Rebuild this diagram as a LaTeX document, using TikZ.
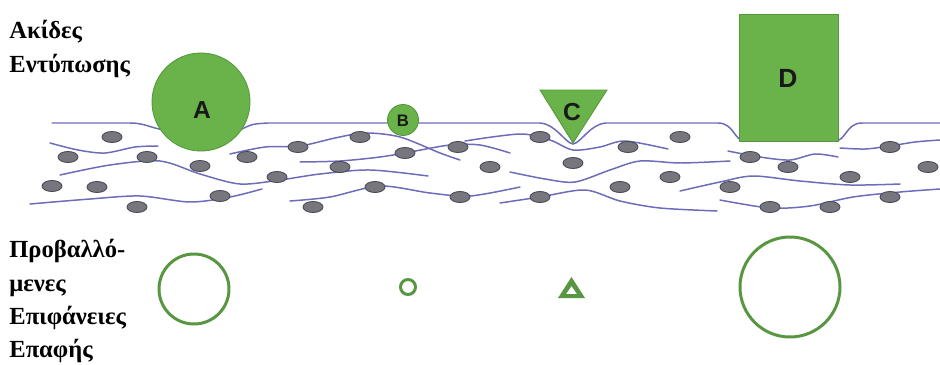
\documentclass[tikz,border=0pt]{standalone}
\usepackage{fontspec}
\setmainfont{Liberation Serif}
\newfontfamily\lblfont{Liberation Sans}
\usepackage{tikz}
\usetikzlibrary{calc,positioning}
\definecolor{tipc}{RGB}{106,178,74}
\definecolor{tipe}{RGB}{86,152,60}
\definecolor{ringc}{RGB}{88,150,66}
\definecolor{fibc}{RGB}{108,108,186}
\definecolor{grainc}{RGB}{118,118,124}
\definecolor{graine}{RGB}{72,72,92}
\tikzset{
  tip/.style={fill=tipc,draw=tipe,line width=0.5pt},
  ring/.style={draw=ringc,line width=1.7pt},
  fib/.style={fibc,line width=0.85pt,line cap=round},
  grain/.style={fill=grainc,draw=graine,line width=0.5pt},
  lbl/.style={font=\lblfont\bfseries\fontsize{14}{14}\selectfont,text=black!90,inner sep=0pt},
  caption/.style={font=\bfseries\fontsize{14}{19}\selectfont,align=left,inner sep=0pt,anchor=north west},
}

\begin{document}
\begin{tikzpicture}[x=0.02cm,y=-0.02cm]
  \useasboundingbox (0,0) rectangle (940,365);
  % fibres of the paper
  \draw[fib] plot[smooth] coordinates {(50,143) (78,150) (105,153) (135,147) (158,146)};
  \draw[fib] plot[smooth] coordinates {(60,175) (110,165) (160,161) (200,174) (240,184) (280,180) (320,174) (370,170) (428,176)};
  \draw[fib] plot[smooth] coordinates {(30,204) (90,199) (140,196) (190,202) (230,197) (262,189)};
  \draw[fib] plot[smooth] coordinates {(230,154) (265,147) (300,146) (335,138) (365,133) (400,137) (440,153) (460,160)};
  \draw[fib] plot[smooth] coordinates {(300,162) (340,161) (380,157) (410,152) (450,145) (480,145) (510,153)};
  \draw[fib] plot[smooth] coordinates {(290,201) (330,197) (380,186) (430,193) (470,196) (520,187)};
  \draw[fib] plot[smooth] coordinates {(465,141) (520,134) (550,140) (573,150) (600,147) (625,141) (668,149)};
  \draw[fib] plot[smooth] coordinates {(510,172) (545,179) (575,182) (610,170) (640,161) (680,163) (730,161)};
  \draw[fib] plot[smooth] coordinates {(500,203) (540,197) (585,190) (620,201) (660,208) (717,211)};
  \draw[fib] plot[smooth] coordinates {(728,151) (760,157) (790,160) (815,154) (838,157)};
  \draw[fib] plot[smooth] coordinates {(680,191) (720,182) (753,176) (800,181) (850,185) (900,184)};
  \draw[fib] plot[smooth] coordinates {(720,200) (770,208) (810,206) (853,197) (900,192) (940,189)};
  \draw[fib] plot[smooth] coordinates {(840,148) (865,149) (890,146) (915,142) (940,140)};
  % filler grains
  \foreach \x/\y in {112/137,68/157,147/157,200/166,247/157,298/147,277/177,52/186,97/187,220/196,137/207,313/207,
                     360/137,405/153,340/167,375/187,458/147,490/167,460/197,540/137,573/163,628/147,620/187,540/197,
                     680/137,670/177,750/157,788/167,730/187,770/207,830/207,850/177,890/147,890/197,928/167}
    \draw[grain] (\x,\y) ellipse (10 and 5.5);
  % paper surface
  \draw[fib] (52,123) -- (130,123) .. controls (145,123) and (150,128) .. (165,130) -- (240,130)
    .. controls (252,124) .. (268,123) -- (540,123) .. controls (556,124) and (565,143) .. (573,144)
    .. controls (581,143) and (590,124) .. (606,123) -- (718,123) .. controls (734,123) and (734,141) .. (745,141)
    -- (835,141) .. controls (846,141) and (846,123) .. (862,123) -- (940,123);
  % print tips
  \draw[tip] (201,102) circle (49);
  \node[lbl] (A) at (202,110) {A};
  \draw[tip] (403,120) circle (15.5);
  \node[lbl,font=\lblfont\bfseries\fontsize{9.5}{10}\selectfont] (B) at (403,121) {B};
  \draw[tip] (540,90) -- (607,90) -- (573,143) -- cycle;
  \node[lbl] (C) at (572,112) {C};
  \draw[tip] (739,14) rectangle (838,141);
  \node[lbl,font=\lblfont\bfseries\fontsize{15}{15}\selectfont] (D) at (788,78) {D};
  % contact areas
  \draw[ring] (194,289) circle (35);
  \draw[ring] (408,287) circle (7.5);
  \fill[ringc,even odd rule] (558,298) -- (585,298) -- (571.5,277) -- cycle
    (566,294) -- (577,294) -- (571.5,286) -- cycle;
  \draw[ring] (790,287) circle (50);
  % captions
  \node[caption] (top) at (9,20) {Ακίδες\\Εντύπωσης};
  \node[caption] (bot) at (9,239) {Προβαλλό-\\μενες\\Επιφάνειες\\Επαφής};
\end{tikzpicture}
\end{document}
